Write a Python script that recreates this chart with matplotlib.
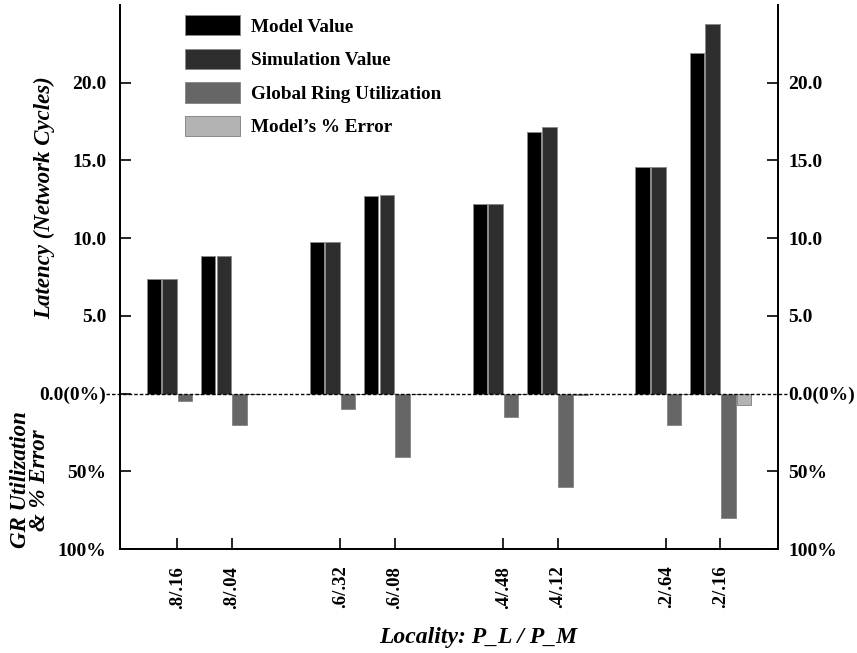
import matplotlib
matplotlib.use("Agg")
import matplotlib.pyplot as plt
from matplotlib.patches import Patch
from matplotlib.transforms import blended_transform_factory

plt.rcParams["font.family"] = ["Liberation Serif", "DejaVu Serif"]
plt.rcParams["font.weight"] = "bold"

# locality pairs P_L / P_M
localities = [".8/.16", ".8/.04", ".6/.32", ".6/.08", ".4/.48", ".4/.12", ".2/.64", ".2/.16"]
slots = [0, 1, 3, 4, 6, 7, 9, 10]

# latency in network cycles
model_value = [7.40, 8.83, 9.77, 12.69, 12.17, 16.85, 14.57, 21.93]
sim_value = [7.40, 8.83, 9.77, 12.75, 12.17, 17.13, 14.57, 23.75]

# percentages, drawn downward (100% == -10 on the latency scale)
gr_util_pct = [5, 20, 10, 40.5, 15, 60, 20, 80]
model_err_pct = [0.3, 0.4, 0.2, 0.5, 0.3, 1.2, 0.3, 7.5]

series = [
    ("Model Value", model_value, "#000000", 1),
    ("Simulation Value", sim_value, "#2e2e2e", 1),
    ("Global Ring Utilization", gr_util_pct, "#666666", -0.1),
    ("Model\u2019s % Error", model_err_pct, "#b3b3b3", -0.1),
]

fig = plt.figure(figsize=(8.57, 6.53), dpi=100)
ax = fig.add_axes([120 / 857, 104 / 653, 658.3 / 857, 544 / 653])

step = 0.288
width = 0.267
edge = "#8a8a8a"
for i, (name, vals, col, scale) in enumerate(series):
    xs = [s + i * step for s in slots]
    ax.bar(xs, [v * scale for v in vals], width=width, align="edge",
           color=col, edgecolor=edge, linewidth=0.7, zorder=2)

ax.set_xlim(-0.49, 11.63)
ax.set_ylim(-10, 25)

# zero line running past both spines to the labels
trans = blended_transform_factory(ax.transAxes, ax.transData)
ax.plot([-0.022, 1.013], [0, 0], transform=trans, color="black",
        linestyle=(0, (2.5, 1.5)), linewidth=1.0, clip_on=False, zorder=3)

centers = [s + 1.5 * step + width / 2 for s in slots]
ax.set_xticks(centers)
ax.set_xticklabels(localities, rotation=90, fontsize=13.5, fontweight="bold", va="top")
ax.tick_params(axis="x", direction="in", length=8, width=1.2, pad=12)

yticks = [-10, -5, 0, 5, 10, 15, 20]
ylabels = ["100%", "50%", "0.0(0%)", "5.0", "10.0", "15.0", "20.0"]
ax.set_yticks(yticks)
ax.set_yticklabels(ylabels, fontsize=14, fontweight="bold")
ax.tick_params(axis="y", direction="in", length=8, width=1.2, pad=10)
ax.yaxis.get_major_ticks()[2].tick1line.set_visible(False)

ax2 = ax.twinx()
ax2.set_ylim(ax.get_ylim())
ax2.set_yticks(yticks)
ax2.set_yticklabels(ylabels, fontsize=14, fontweight="bold")
ax2.tick_params(axis="y", direction="in", length=8, width=1.2, pad=7)
ax2.yaxis.get_major_ticks()[2].tick2line.set_visible(False)

for a in (ax, ax2):
    a.spines["top"].set_visible(False)
    for sp in ("left", "right", "bottom"):
        a.spines[sp].set_linewidth(1.3)

fig.text(45 / 857, 1 - 198 / 653, "Latency (Network Cycles)", rotation=90,
         ha="center", va="center", fontsize=16.5, fontweight="bold", style="italic")
fig.text(30 / 857, 1 - 480 / 653, "GR Utilization\n& % Error", rotation=90,
         ha="center", va="center", fontsize=16.5, fontweight="bold", style="italic",
         multialignment="center", linespacing=0.85)
fig.text(478 / 857, 1 - 637 / 653, "Locality: P_L / P_M", ha="center", va="center",
         fontsize=17, fontweight="bold", style="italic")

handles = [Patch(facecolor=col, edgecolor=edge, linewidth=0.7) for _, _, col, _ in series]
ax.legend(handles, [s[0] for s in series], loc="upper left",
          bbox_to_anchor=(0.0987, 0.9816), frameon=False,
          handlelength=2.86, handleheight=1.25, labelspacing=0.68,
          handletextpad=0.61, borderpad=0, borderaxespad=0,
          prop={"weight": "bold", "size": 13.8})

fig.savefig("out.png", dpi=100)
